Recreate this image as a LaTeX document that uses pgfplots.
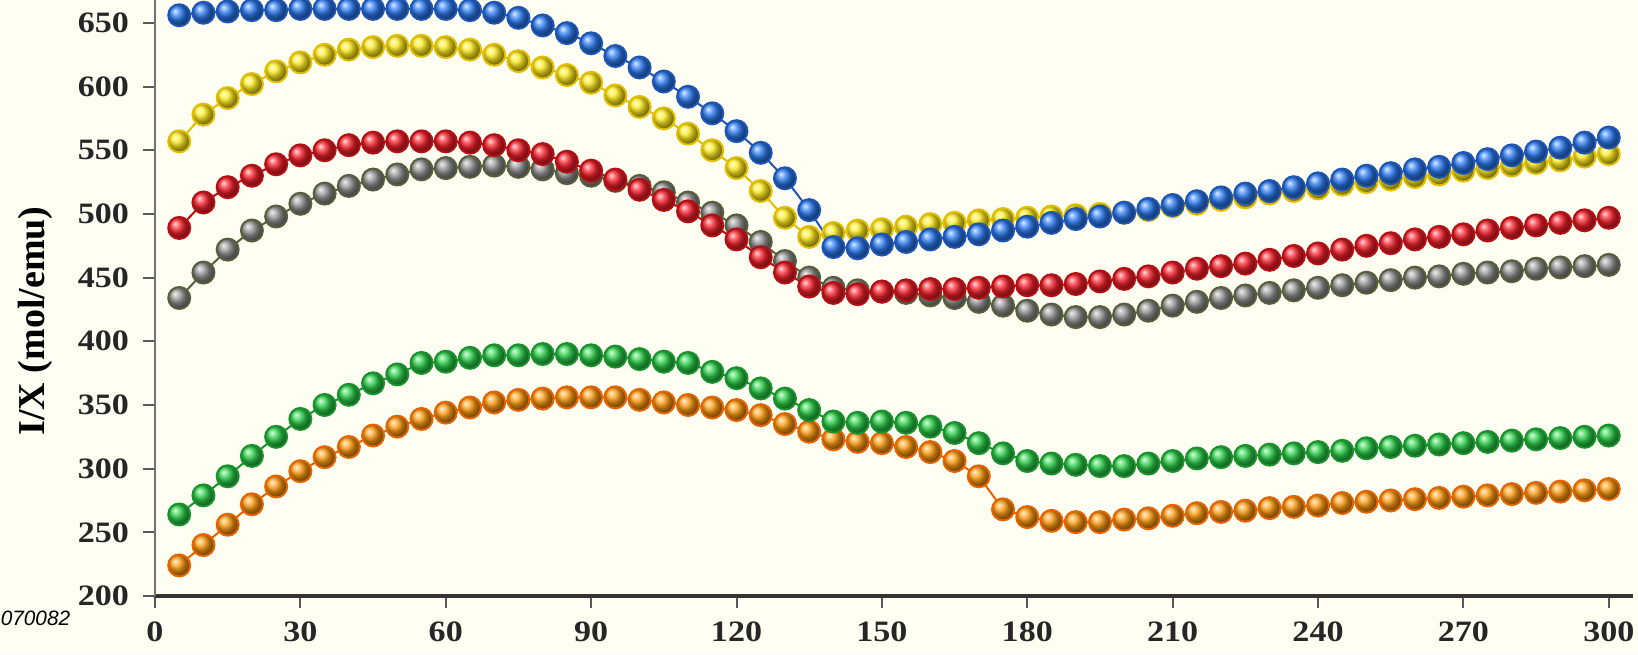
\documentclass[border=0pt]{standalone}
\usepackage{fontspec}
\setmainfont{Liberation Serif}
\newfontfamily\tickfont{Liberation Serif}[FakeStretch=1.15]
\newfontfamily\notefont{Liberation Sans}
\usepackage{pgfplots}
\usepackage{pgfplotstable}
\pgfplotsset{compat=1.18}
\definecolor{bg}{RGB}{255,254,242}
\definecolor{cblue}{RGB}{45,125,245}
\definecolor{lblue}{RGB}{30,85,180}
\definecolor{cyellow}{RGB}{255,235,30}
\definecolor{lyellow}{RGB}{225,190,0}
\definecolor{cred}{RGB}{250,35,45}
\definecolor{lred}{RGB}{180,15,20}
\definecolor{cgray}{RGB}{150,150,150}
\definecolor{lgray}{RGB}{85,95,60}
\definecolor{cgreen}{RGB}{45,210,75}
\definecolor{lgreen}{RGB}{25,145,45}
\definecolor{corange}{RGB}{255,155,15}
\definecolor{lorange}{RGB}{230,100,0}

\pgfplotstableread{
x B Y R G Gr O
5 656 557 489 434 264 224
10 658 578 509 454 279 240
15 659 591 521 472 294 256
20 660 602 530 487 310 272
25 660 612 539 498 325 286
30 661 619 546 508 339 298
35 661 625 550 516 350 309
40 661 629 554 522 358 317
45 661 631 556 527 367 326
50 661 632 557 531 374 333
55 661 632 557 535 383 339
60 661 631 557 536 384 344
65 660 629 556 537 387 348
70 658 625 554 538 389 352
75 654 620 550 537 389 354
80 648 615 547 535 390 355
85 642 609 541 532 390 356
90 634 603 534 530 389 356
95 624 593 527 526 388 356
100 615 584 519 522 386 354
105 604 575 511 517 384 352
110 592 563 502 509 383 350
115 579 550 491 501 376 348
120 565 536 480 491 371 346
125 548 518 466 478 363 342
130 528 497 454 463 355 335
135 503 482 443 450 346 329
140 474 485 438 442 337 323
145 473 487 437 440 336 321
150 476 488 439 439 337 320
155 478 490 440 438 336 317
160 480 492 441 436 333 313
165 482 493 441 434 328 306
170 484 495 442 431 320 294
175 487 496 443 428 312 268
180 490 497 444 424 306 262
185 493 498 444 421 304 259
190 496 499 445 419 303 258
195 498 500 447 419 302 258
200 501 501 449 421 302 260
205 504 503 451 424 304 261
210 507 506 454 428 306 263
215 510 508 457 431 308 265
220 513 511 459 434 309 266
225 516 513 461 436 310 267
230 518 516 464 438 311 269
235 521 518 467 440 312 270
240 524 520 469 442 313 271
245 527 523 472 444 314 273
250 530 525 475 446 316 274
255 532 527 477 448 317 275
260 535 529 480 450 318 276
265 537 531 482 451 319 277
270 540 534 484 453 320 278
275 543 536 487 454 321 279
280 546 538 489 455 322 280
285 549 540 491 457 323 281
290 552 542 493 458 324 282
295 556 545 495 459 325 283
300 560 547 497 460 326 284
}\data

\begin{document}
\begin{tikzpicture}
\useasboundingbox (0,0) rectangle (409.5pt,163.5pt);
\fill[bg] (0,0) rectangle (409.5pt,163.5pt);
\begin{axis}[
  at={(38.75pt,14.5pt)}, anchor=south west,
  scale only axis, width=369.5pt, height=149pt,
  xmin=0, xmax=305, ymin=200, ymax=668,
  axis x line*=bottom, axis y line*=left,
  axis line style={-},
  x axis line style={line width=0.9pt, draw=black!80},
  y axis line style={line width=0.5pt, draw=black!55},
  xtick={0,30,...,300}, ytick={200,250,...,650},
  tick align=outside, major tick length=3pt,
  tick style={line width=0.5pt, draw=black!65},
  /pgf/number format/assume math mode=true,
  ticklabel style={font=\tickfont\bfseries\fontsize{7.4}{8}\selectfont, text=black!85},
  ylabel={I/X (mol/emu)},
  ylabel style={font=\bfseries\fontsize{9.5}{10}\selectfont, at={(axis description cs:-0.0812,0.4614)}, anchor=center},
  clip=true,
]
\addplot[draw=lgray, line width=0.5pt, mark=ball, mark size=2.75pt, mark options={ball color=cgray}] table[x=x,y=G]{\data};
\addplot[draw=lred, line width=0.5pt, mark=ball, mark size=2.75pt, mark options={ball color=cred}] table[x=x,y=R]{\data};
\addplot[draw=lyellow, line width=0.5pt, mark=ball, mark size=2.75pt, mark options={ball color=cyellow}] table[x=x,y=Y]{\data};
\addplot[draw=lblue, line width=0.5pt, mark=ball, mark size=2.75pt, mark options={ball color=cblue}] table[x=x,y=B]{\data};
\addplot[draw=lorange, line width=0.5pt, mark=ball, mark size=2.75pt, mark options={ball color=corange}] table[x=x,y=O]{\data};
\addplot[draw=lgreen, line width=0.5pt, mark=ball, mark size=2.75pt, mark options={ball color=cgreen}] table[x=x,y=Gr]{\data};
\end{axis}
\node[anchor=base west, inner sep=0pt, font=\notefont\itshape\fontsize{5.2}{6}\selectfont] at (0pt,7.25pt) {070082};
\end{tikzpicture}
\end{document}
